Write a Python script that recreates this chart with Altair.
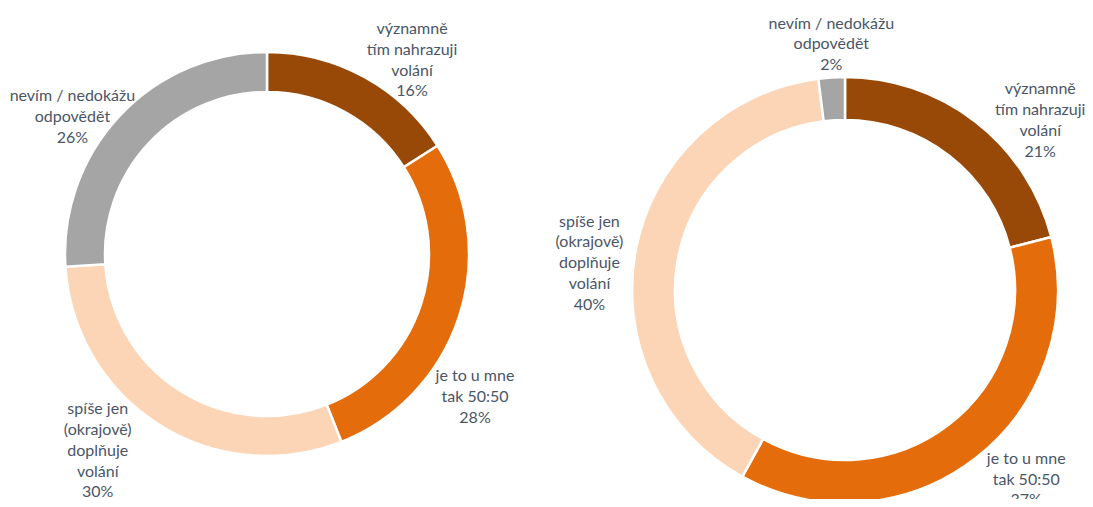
import altair as alt
import pandas as pd

# ---- data ----
category_lines = [
    "významně\ntím nahrazuji\nvolání",
    "je to u mne\ntak 50:50",
    "spíše jen\n(okrajově)\ndoplňuje\nvolání",
    "nevím / nedokážu\nodpovědět",
]
values_left = [16, 28, 30, 26]
values_right = [21, 37, 40, 2]

# ---- style / layout ----
colors = ["#984807", "#E46C0A", "#FBD5B5", "#A5A5A5"]
text_color = "#4A5668"
font = "Lato"
font_size = 16
line_height = 20.8

W, H = 1077, 491
left_center = (259, 246)
right_center = (837, 282)
left_radii = (162, 202)
right_radii = (170, 213)
left_label_r = 245
right_label_r = 250
# manual nudges of the labels (Excel labels were dragged by hand)
left_nudges = [(27, 21), (-25, 67), (-38, -10), (-16, 31)]
right_nudges = [(42, 28), (28, -8), (-10, 20), (2, 4)]


def make_df(values):
    mids, acc = [], 0
    for v in values:
        mids.append(acc + v / 2)
        acc += v
    return pd.DataFrame({
        "cat": category_lines,
        "value": values,
        "order": list(range(len(values))),
        "mid": mids,
        "label": [f"{c}\n{v}%" for c, v in zip(category_lines, values)],
    })


theta_scale = alt.Scale(domain=[0, 100])
color_scale = alt.Scale(domain=category_lines, range=colors)


def donut(values, center, radii, label_r, nudges):
    df = make_df(values)
    cx, cy = center
    arcs = alt.Chart(df).mark_arc(
        innerRadius=radii[0], outerRadius=radii[1], stroke="white", strokeWidth=2.5
    ).encode(
        theta=alt.Theta("value:Q", stack=True, scale=theta_scale),
        color=alt.Color("cat:N", scale=color_scale, legend=None),
        order=alt.Order("order:Q"),
        x=alt.value(cx),
        y=alt.value(cy),
    )
    layers = [arcs]
    for cat, (ndx, ndy) in zip(category_lines, nudges):
        n_lines = cat.count("\n") + 2
        t = alt.Chart(df).transform_filter(
            alt.datum.cat == cat
        ).mark_text(
            radius=label_r, dx=ndx, dy=ndy - (n_lines - 1) * line_height / 2,
            lineBreak="\n", lineHeight=line_height,
            font=font, fontSize=font_size, color=text_color,
            align="center", baseline="middle",
        ).encode(
            theta=alt.Theta("mid:Q", scale=theta_scale),
            text="label:N",
            x=alt.value(cx),
            y=alt.value(cy),
        )
        layers.append(t)
    return layers


layers = donut(values_left, left_center, left_radii, left_label_r, left_nudges) + \
    donut(values_right, right_center, right_radii, right_label_r, right_nudges)

chart = alt.layer(*layers).properties(
    width=W, height=H, padding=0, autosize="none"
).configure_view(stroke=None)

chart.save("out.html", embed_options={"renderer": "svg", "actions": False})
